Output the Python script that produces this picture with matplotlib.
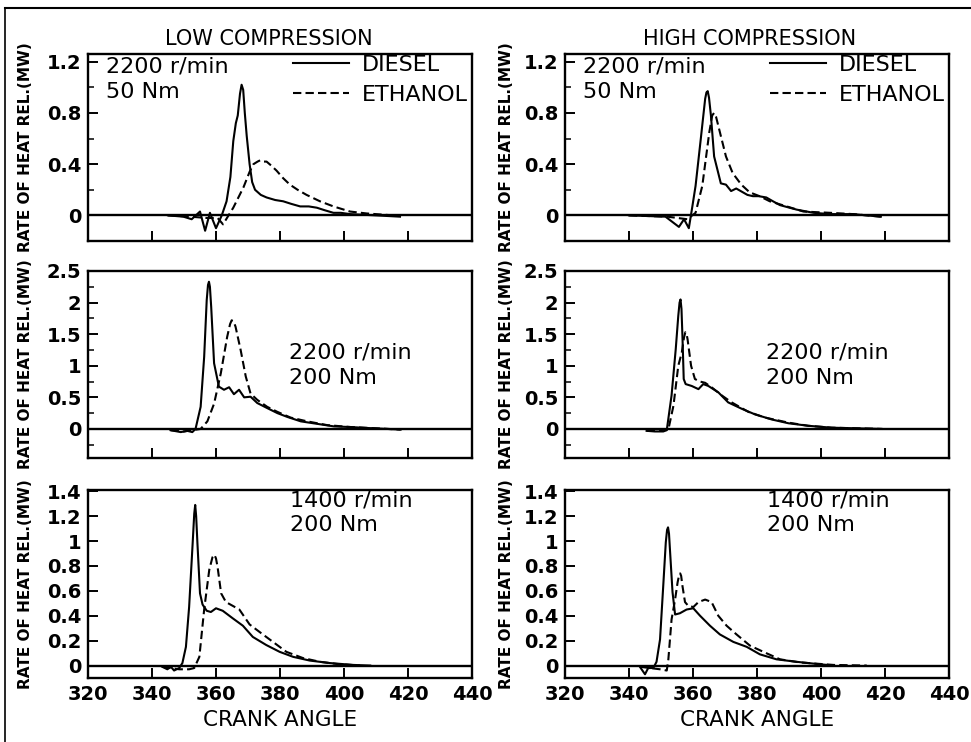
import matplotlib
matplotlib.use('Agg')
import matplotlib.pyplot as plt
from matplotlib.lines import Line2D
from matplotlib.ticker import FixedLocator, FuncFormatter, MultipleLocator, NullLocator

plt.rcParams['font.family'] = ['DejaVu Sans']

# ---------------- data (crank angle in degrees, heat release rate in MW) ----------------
# Low compression, 2200 r/min, 50 Nm
lc50_diesel_x = [345.0, 349.8, 352.4, 355.0, 356.6, 358.1, 360.0, 361.8, 363.3, 364.5, 365.4, 366.2,
                 366.8, 367.5, 368.0, 368.5, 369.0, 369.6, 370.5, 371.3, 372.2, 374.0, 375.8,
                 378.5, 381.0, 383.5, 386.3, 389.0, 391.5, 394.0, 396.7, 399.0, 401.9, 410.0, 417.5]
lc50_diesel_y = [0.0, -0.01, -0.03, 0.03, -0.12, 0.02, -0.10, 0.0, 0.11, 0.30, 0.58, 0.72,
                 0.78, 0.95, 1.02, 0.98, 0.80, 0.62, 0.40, 0.26, 0.20, 0.16, 0.14,
                 0.12, 0.11, 0.09, 0.07, 0.07, 0.06, 0.04, 0.02, 0.02, 0.01, 0.0, -0.01]
lc50_ethanol_x = [345.0, 352.0, 357.0, 360.5, 362.2, 365.4, 368.6, 370.5, 371.7, 373.0, 373.8, 374.8,
                  375.8, 377.2, 378.9, 381.0, 383.1, 385.5, 388.3, 392.5, 396.7, 401.9, 407.1, 415.4]
lc50_ethanol_y = [0.0, -0.01, -0.02, -0.02, -0.07, 0.06, 0.22, 0.34, 0.40, 0.42, 0.43, 0.42,
                  0.42, 0.39, 0.35, 0.29, 0.24, 0.20, 0.16, 0.11, 0.07, 0.03, 0.015, 0.0]

# High compression, 2200 r/min, 50 Nm
hc50_diesel_x = [340.0, 351.4, 355.6, 357.2, 358.7, 359.8, 360.8, 362.4, 363.8, 364.2, 364.6, 365.0,
                 365.6, 366.6, 367.4, 368.0, 368.7, 370.3, 371.9, 373.5, 375.6, 377.0, 378.7,
                 380.5, 382.9, 385.0, 387.2, 392.4, 397.7, 402.9, 410.0, 418.7]
hc50_diesel_y = [0.0, -0.01, -0.09, -0.03, -0.10, 0.07, 0.23, 0.59, 0.91, 0.96, 0.97, 0.92,
                 0.78, 0.46, 0.38, 0.32, 0.25, 0.24, 0.19, 0.21, 0.18, 0.16, 0.15,
                 0.15, 0.14, 0.11, 0.08, 0.045, 0.02, 0.01, 0.01, -0.01]
hc50_ethanol_x = [340.0, 352.0, 358.2, 360.8, 362.9, 365.1, 366.0, 366.6, 367.2, 368.2, 370.3, 372.4,
                  375.1, 377.7, 380.8, 384.0, 389.3, 394.5, 402.9, 410.0, 418.7]
hc50_ethanol_y = [0.0, -0.01, -0.03, 0.02, 0.23, 0.65, 0.78, 0.80, 0.77, 0.67, 0.46, 0.33,
                  0.24, 0.18, 0.15, 0.11, 0.07, 0.03, 0.02, 0.01, -0.01]

# Low compression, 2200 r/min, 200 Nm
lc200_diesel_x = [345.8, 349.0, 351.0, 352.6, 353.6, 355.2, 356.3, 357.1, 357.5, 357.8, 358.1, 358.5,
                  359.4, 360.9, 362.5, 364.1, 365.6, 367.2, 368.8, 370.8, 372.9, 376.0, 379.2,
                  382.3, 386.5, 391.7, 396.9, 402.1, 407.3, 417.7]
lc200_diesel_y = [-0.02, -0.05, -0.03, -0.05, 0.0, 0.35, 1.14, 2.04, 2.28, 2.33, 2.25, 1.93,
                  1.04, 0.67, 0.62, 0.66, 0.55, 0.62, 0.50, 0.51, 0.41, 0.33, 0.25,
                  0.19, 0.12, 0.08, 0.04, 0.03, 0.015, -0.01]
lc200_ethanol_x = [345.8, 350.0, 355.2, 357.3, 359.4, 361.5, 363.5, 364.4, 364.9, 365.5, 366.1, 367.7,
                   369.3, 370.8, 372.9, 376.0, 379.2, 383.3, 388.5, 394.8, 402.1, 417.7]
lc200_ethanol_y = [-0.02, -0.04, 0.0, 0.12, 0.40, 0.88, 1.46, 1.66, 1.72, 1.70, 1.62, 1.25,
                   0.83, 0.56, 0.46, 0.35, 0.27, 0.18, 0.12, 0.06, 0.03, -0.01]

# High compression, 2200 r/min, 200 Nm
hc200_diesel_x = [345.5, 348.1, 350.7, 351.8, 353.3, 354.6, 355.4, 355.8, 356.1, 356.4, 356.7, 357.1,
                  357.7, 359.6, 361.7, 363.2, 364.8, 367.9, 371.0, 375.2, 379.4, 384.6, 389.8,
                  396.0, 403.3, 419.0]
hc200_diesel_y = [-0.03, -0.04, -0.04, -0.02, 0.53, 1.26, 1.79, 2.00, 2.05, 1.90, 1.47, 0.79,
                  0.71, 0.68, 0.63, 0.71, 0.68, 0.58, 0.42, 0.32, 0.23, 0.15, 0.09,
                  0.05, 0.02, 0.0]
hc200_ethanol_x = [345.5, 352.3, 353.9, 355.4, 356.5, 357.2, 357.6, 358.0, 358.3, 359.4, 360.6, 362.2,
                   363.8, 365.8, 369.0, 372.1, 377.3, 382.5, 389.8, 396.0, 403.3, 419.0]
hc200_ethanol_y = [-0.03, -0.01, 0.37, 1.00, 1.21, 1.45, 1.53, 1.50, 1.42, 1.00, 0.79, 0.75,
                   0.73, 0.66, 0.53, 0.42, 0.27, 0.18, 0.10, 0.05, 0.02, 0.0]

# Low compression, 1400 r/min, 200 Nm
lc1400_diesel_x = [343.2, 344.8, 345.9, 346.9, 348.5, 349.5, 350.6, 351.6, 352.7, 353.2, 353.5, 353.8,
                   354.2, 355.0, 355.8, 357.1, 358.4, 360.0, 362.1, 365.2, 368.4, 371.5, 375.7,
                   379.9, 384.1, 389.3, 395.6, 402.9, 408.2]
lc1400_diesel_y = [-0.01, -0.03, -0.01, -0.04, -0.02, 0.02, 0.15, 0.47, 0.98, 1.22, 1.29, 1.20,
                   0.98, 0.58, 0.49, 0.44, 0.43, 0.46, 0.44, 0.38, 0.32, 0.23, 0.165,
                   0.11, 0.07, 0.04, 0.02, 0.005, 0.0]
lc1400_ethanol_x = [343.2, 348.5, 351.6, 353.2, 354.8, 356.3, 357.9, 358.9, 359.5, 360.0, 360.5, 361.6,
                    363.1, 365.2, 367.3, 370.5, 373.6, 377.8, 382.0, 387.2, 392.5, 397.7, 405.0]
lc1400_ethanol_y = [-0.01, -0.03, -0.03, -0.02, 0.07, 0.45, 0.77, 0.87, 0.89, 0.86, 0.79, 0.58,
                    0.51, 0.48, 0.45, 0.33, 0.27, 0.19, 0.11, 0.06, 0.03, 0.013, 0.0]

# High compression, 1400 r/min, 200 Nm
hc1400_diesel_x = [343.4, 345.0, 346.0, 347.6, 348.6, 349.7, 350.7, 351.5, 351.9, 352.2, 352.5, 352.8,
                   353.6, 354.4, 355.9, 358.0, 360.1, 362.2, 365.3, 368.4, 372.6, 376.8, 380.9,
                   386.1, 392.4, 398.6, 403.9]
hc1400_diesel_y = [-0.01, -0.07, -0.02, -0.02, 0.03, 0.21, 0.64, 0.99, 1.09, 1.11, 1.06, 0.93,
                   0.59, 0.41, 0.42, 0.45, 0.46, 0.40, 0.32, 0.25, 0.19, 0.15, 0.09,
                   0.05, 0.03, 0.013, 0.0]
hc1400_ethanol_x = [343.4, 349.7, 351.8, 352.3, 353.3, 354.4, 355.2, 355.7, 356.0, 356.3, 356.7, 357.5,
                    358.5, 360.1, 361.7, 363.8, 365.8, 367.9, 370.5, 373.6, 377.8, 382.0, 387.2,
                    393.4, 403.9, 414.3]
hc1400_ethanol_y = [-0.01, -0.03, -0.04, 0.05, 0.37, 0.53, 0.67, 0.73, 0.74, 0.72, 0.64, 0.51,
                    0.48, 0.47, 0.51, 0.53, 0.51, 0.40, 0.32, 0.25, 0.16, 0.11, 0.05,
                    0.025, 0.005, 0.0]

column_titles = ["LOW COMPRESSION", "HIGH COMPRESSION"]
conditions = ["2200 r/min\n50 Nm", "2200 r/min\n200 Nm", "1400 r/min\n200 Nm"]
series_labels = ["DIESEL", "ETHANOL"]
x_ticks = [320, 340, 360, 380, 400, 420, 440]
y_ticks_rows = [[0, 0.4, 0.8, 1.2],
                [0, 0.5, 1, 1.5, 2, 2.5],
                [0, 0.2, 0.4, 0.6, 0.8, 1, 1.2, 1.4]]
y_limits_rows = [(-0.2, 1.26), (-0.46, 2.5), (-0.1, 1.41)]
y_minor_rows = [0.2, 0.25, None]
y_label = "RATE OF HEAT REL.(MW)"
x_label = "CRANK ANGLE"

panel_data = [
    [(lc50_diesel_x, lc50_diesel_y, lc50_ethanol_x, lc50_ethanol_y),
     (hc50_diesel_x, hc50_diesel_y, hc50_ethanol_x, hc50_ethanol_y)],
    [(lc200_diesel_x, lc200_diesel_y, lc200_ethanol_x, lc200_ethanol_y),
     (hc200_diesel_x, hc200_diesel_y, hc200_ethanol_x, hc200_ethanol_y)],
    [(lc1400_diesel_x, lc1400_diesel_y, lc1400_ethanol_x, lc1400_ethanol_y),
     (hc1400_diesel_x, hc1400_diesel_y, hc1400_ethanol_x, hc1400_ethanol_y)],
]

# ---------------- figure ----------------
W, H = 971, 742
fig = plt.figure(figsize=(W / 100, H / 100), dpi=100)

col_left = [88, 565]
col_width = 384
row_top = [54, 271, 490]
row_height = [187, 187, 188]

dash = (0, (4, 2))
line_w = 1.5
fs_tick = 14
fs_text = 16

# figure frame (top and left lines)
fig.add_artist(Line2D([5 / W, 5 / W], [0, 1 - 8 / H], color='black', lw=1.2, transform=fig.transFigure))
fig.add_artist(Line2D([5 / W, 1], [1 - 8 / H, 1 - 8 / H], color='black', lw=1.5, transform=fig.transFigure))

ann_pos = [(0.047, 0.985), (0.523, 0.615), (0.526, 1.0)]

for r in range(3):
    for c in range(2):
        left = col_left[c] / W
        bottom = 1 - (row_top[r] + row_height[r]) / H
        ax = fig.add_axes([left, bottom, col_width / W, row_height[r] / H])
        dx, dy, ex, ey = panel_data[r][c]
        ax.axhline(0, color='black', lw=1.7, zorder=1)
        ax.plot(dx, dy, color='black', lw=line_w, ls='-', zorder=3)
        ax.plot(ex, ey, color='black', lw=line_w, ls=dash, zorder=2)
        ax.set_xlim(320, 440)
        ax.set_ylim(*y_limits_rows[r])
        for sp in ax.spines.values():
            sp.set_linewidth(1.7)
        ax.xaxis.set_major_locator(FixedLocator(x_ticks))
        ax.yaxis.set_major_locator(FixedLocator(y_ticks_rows[r]))
        ax.yaxis.set_major_formatter(FuncFormatter(lambda v, p: f"{v:g}"))
        if y_minor_rows[r]:
            ax.yaxis.set_minor_locator(MultipleLocator(y_minor_rows[r]))
        else:
            ax.yaxis.set_minor_locator(NullLocator())
        ax.tick_params(axis='both', which='major', direction='in', length=7, width=1.4,
                       top=False, right=False, labelsize=fs_tick, pad=5)
        ax.tick_params(axis='y', which='minor', direction='in', length=4, width=1.1, right=False)
        for lab in ax.get_xticklabels() + ax.get_yticklabels():
            lab.set_fontweight('bold')
        if r < 2:
            ax.tick_params(axis='x', labelbottom=False)
        else:
            ax.set_xlabel(x_label, fontsize=15.5, labelpad=4)
        ax.set_ylabel(y_label, fontsize=11, fontweight='bold')
        ax.yaxis.set_label_coords(-0.143 if c == 0 else -0.133, 0.5)

        tx, ty = ann_pos[r]
        ax.text(tx, ty, conditions[r], transform=ax.transAxes, ha='left', va='top',
                fontsize=fs_text, linespacing=1.3)

        if r == 0:
            ax.text(0.47 if c == 0 else 0.48, 1.0 + 9 / row_height[r], column_titles[c],
                    transform=ax.transAxes, ha='center', va='baseline', fontsize=15)
            handles = [Line2D([], [], color='black', lw=line_w, ls='-'),
                       Line2D([], [], color='black', lw=line_w, ls=dash)]
            ax.legend(handles, series_labels, loc='upper left', bbox_to_anchor=(0.534, 0.995),
                      frameon=False, fontsize=fs_text, handlelength=2.5, handletextpad=0.6,
                      borderpad=0, borderaxespad=0, labelspacing=0.45)

fig.savefig('out.png', dpi=100)
